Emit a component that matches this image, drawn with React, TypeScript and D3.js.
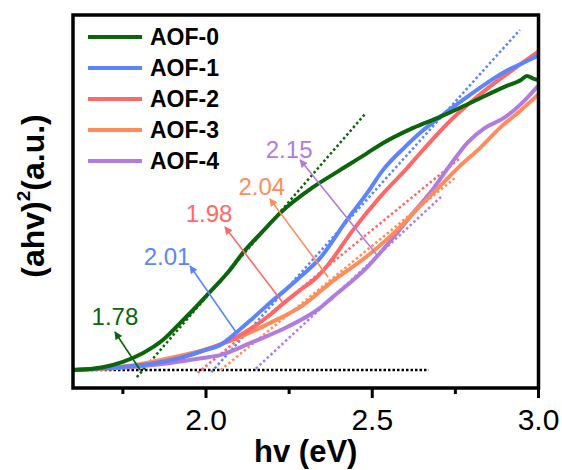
import React from "react";
import * as d3 from "d3";

// ---- data (hv in eV, (ahv)^2 in a.u.) ----
const seriesNames = ["AOF-0", "AOF-1", "AOF-2", "AOF-3", "AOF-4"];
const seriesColors = ["#0b650b", "#5b84ff", "#ff6868", "#ff8c5a", "#b07cdf"];

const hv0 = [1.600, 1.690, 1.750, 1.811, 1.871, 1.922, 1.961, 2.012, 2.072, 2.111, 2.169, 2.223, 2.322, 2.403, 2.485, 2.523, 2.623, 2.704, 2.794, 2.896, 2.947, 2.965, 2.986, 2.998];
const y0 = [0, 0.008, 0.023, 0.048, 0.085, 0.132, 0.169, 0.220, 0.282, 0.330, 0.389, 0.442, 0.515, 0.563, 0.611, 0.634, 0.682, 0.713, 0.752, 0.797, 0.817, 0.828, 0.820, 0.817];

const hv1 = [1.600, 1.711, 1.832, 1.922, 1.997, 2.042, 2.093, 2.141, 2.192, 2.238, 2.283, 2.343, 2.424, 2.485, 2.532, 2.598, 2.644, 2.704, 2.794, 2.896, 2.947, 2.998];
const y1 = [0, 0.006, 0.017, 0.034, 0.056, 0.070, 0.107, 0.146, 0.189, 0.225, 0.262, 0.315, 0.423, 0.499, 0.563, 0.628, 0.668, 0.713, 0.775, 0.839, 0.862, 0.885];

const hv2 = [1.600, 1.711, 1.832, 1.922, 1.997, 2.093, 2.147, 2.192, 2.238, 2.283, 2.334, 2.364, 2.442, 2.523, 2.605, 2.647, 2.743, 2.845, 2.947, 2.998];
const y2 = [0, 0.006, 0.017, 0.034, 0.056, 0.093, 0.124, 0.155, 0.192, 0.225, 0.262, 0.293, 0.394, 0.487, 0.569, 0.614, 0.710, 0.792, 0.862, 0.896];

const hv3 = [1.600, 1.741, 1.892, 1.991, 2.093, 2.192, 2.292, 2.382, 2.485, 2.574, 2.644, 2.704, 2.764, 2.824, 2.884, 2.947, 2.998];
const y3 = [0, 0.008, 0.034, 0.056, 0.090, 0.132, 0.183, 0.251, 0.321, 0.394, 0.462, 0.518, 0.575, 0.625, 0.682, 0.732, 0.775];

const hv4 = [1.600, 1.741, 1.892, 1.991, 2.042, 2.141, 2.244, 2.343, 2.382, 2.485, 2.562, 2.635, 2.683, 2.734, 2.788, 2.839, 2.896, 2.947, 2.998];
const y4 = [0, 0.006, 0.020, 0.034, 0.042, 0.079, 0.121, 0.175, 0.206, 0.290, 0.372, 0.456, 0.510, 0.577, 0.642, 0.682, 0.710, 0.749, 0.800];

// band gaps and the dotted tangent segments (start / end points)
const gapLabels = ["1.78", "2.01", "1.98", "2.04", "2.15"];
const tangentStartX = [1.792, 2.016, 1.975, 2.044, 2.150];
const tangentStartY = [-0.02, -0.006, -0.008, 0.0, 0.004];
const tangentEndX = [2.481, 2.944, 2.764, 2.749, 2.713];
const tangentEndY = [0.724, 0.958, 0.597, 0.541, 0.493];

// annotation arrows: tail -> head, and label anchor
const arrowTailX = [1.802, 2.090, 2.229, 2.367, 2.514];
const arrowTailY = [0.0, 0.107, 0.192, 0.262, 0.324];
const arrowHeadX = [1.726, 1.952, 2.057, 2.192, 2.283];
const arrowHeadY = [0.107, 0.293, 0.403, 0.482, 0.592];
const labelX = [1.726, 1.883, 2.009, 2.168, 2.250];
const labelY = [0.127, 0.296, 0.417, 0.493, 0.597];

const baselineX = [1.6, 2.67];
const xMajorTicks = [2.0, 2.5, 3.0];
const xMinorTicks = [1.75, 2.25, 2.75];

const allHv = [hv0, hv1, hv2, hv3, hv4];
const allY = [y0, y1, y2, y3, y4];

export default function App() {
  const W = 562, H = 470;
  const left = 73, right = 538.5, top = 15, bottom = 388;
  const x = d3.scaleLinear().domain([1.6, 3.0]).range([left, right]);
  const y = d3.scaleLinear().domain([-0.0507, 1.0]).range([bottom, top]);
  const line = d3
    .line<[number, number]>()
    .x((d) => x(d[0]))
    .y((d) => y(d[1]))
    .curve(d3.curveMonotoneX);

  const font = "Arial, 'Liberation Sans', Helvetica, sans-serif";

  return (
    <svg width={W} height={H} style={{ position: "absolute", left: 0, top: 0, background: "#fff" }} fontFamily={font}>
      <defs>
        {seriesColors.map((c, i) => (
          <marker key={i} id={`ah${i}`} viewBox="0 0 10 10" refX="9" refY="5" markerWidth="9" markerHeight="8" markerUnits="userSpaceOnUse" orient="auto">
            <path d="M0,0 L10,5 L0,10 Z" fill={c} />
          </marker>
        ))}
        <clipPath id="plotclip">
          <rect x={left} y={top} width={right - left} height={bottom - top} />
        </clipPath>
      </defs>

      {/* baseline dotted */}
      <line x1={x(baselineX[0])} x2={x(baselineX[1])} y1={y(0)} y2={y(0)} stroke="#000" strokeWidth={2.5} strokeDasharray="2.5 2" />

      {/* tangent lines */}
      {gapLabels.map((g, i) => (
        <line key={"t" + i} x1={x(tangentStartX[i])} y1={y(tangentStartY[i])} x2={x(tangentEndX[i])} y2={y(tangentEndY[i])} stroke={seriesColors[i]} strokeWidth={2.5} strokeDasharray="2.5 2.5" />
      ))}

      {/* curves */}
      <g clipPath="url(#plotclip)">
        {allHv.map((hv, i) => (
          <path key={"c" + i} d={line(hv.map((v, j) => [v, allY[i][j]] as [number, number])) || ""} fill="none" stroke={seriesColors[i]} strokeWidth={4} strokeLinejoin="round" />
        )).reverse()}
      </g>

      {/* arrows */}
      {gapLabels.map((g, i) => (
        <line key={"a" + i} x1={x(arrowTailX[i])} y1={y(arrowTailY[i])} x2={x(arrowHeadX[i])} y2={y(arrowHeadY[i])} stroke={seriesColors[i]} strokeWidth={1.6} markerEnd={`url(#ah${i})`} />
      ))}
      {gapLabels.map((t, i) => (
        <text key={"l" + i} x={x(labelX[i])} y={y(labelY[i])} fill={seriesColors[i]} fontSize={24} textAnchor="middle">
          {t}
        </text>
      ))}

      {/* legend */}
      {seriesNames.map((n, i) => (
        <g key={"lg" + i}>
          <line x1={88} x2={142} y1={37 + i * 31} y2={37 + i * 31} stroke={seriesColors[i]} strokeWidth={4} />
          <text x={150} y={37 + i * 31 + 8} fontSize={23} fontWeight="bold" fill="#000">
            {n}
          </text>
        </g>
      ))}

      {/* frame */}
      <rect x={left} y={top} width={right - left} height={bottom - top} fill="none" stroke="#000" strokeWidth={3.5} />

      {/* x ticks */}
      {xMajorTicks.map((t) => (
        <g key={"M" + t}>
          <line x1={x(t)} x2={x(t)} y1={bottom} y2={bottom + 10} stroke="#000" strokeWidth={3} />
          <text x={x(t)} y={430} fontSize={30} textAnchor="middle" fill="#000">
            {d3.format(".1f")(t)}
          </text>
        </g>
      ))}
      {xMinorTicks.map((t) => (
        <line key={"m" + t} x1={x(t)} x2={x(t)} y1={bottom} y2={bottom + 6} stroke="#000" strokeWidth={3} />
      ))}

      {/* axis titles */}
      <text x={(left + right) / 2} y={462} fontSize={31} fontWeight="bold" textAnchor="middle" fill="#000">
        hv (eV)
      </text>
      <text transform="translate(44,196) rotate(-90)" fontSize={32} fontWeight="bold" textAnchor="middle" fill="#000">
        <tspan>(ahv)</tspan>
        <tspan dy={-14} fontSize={19}>2</tspan>
        <tspan dy={14}>(a.u.)</tspan>
      </text>
    </svg>
  );
}
